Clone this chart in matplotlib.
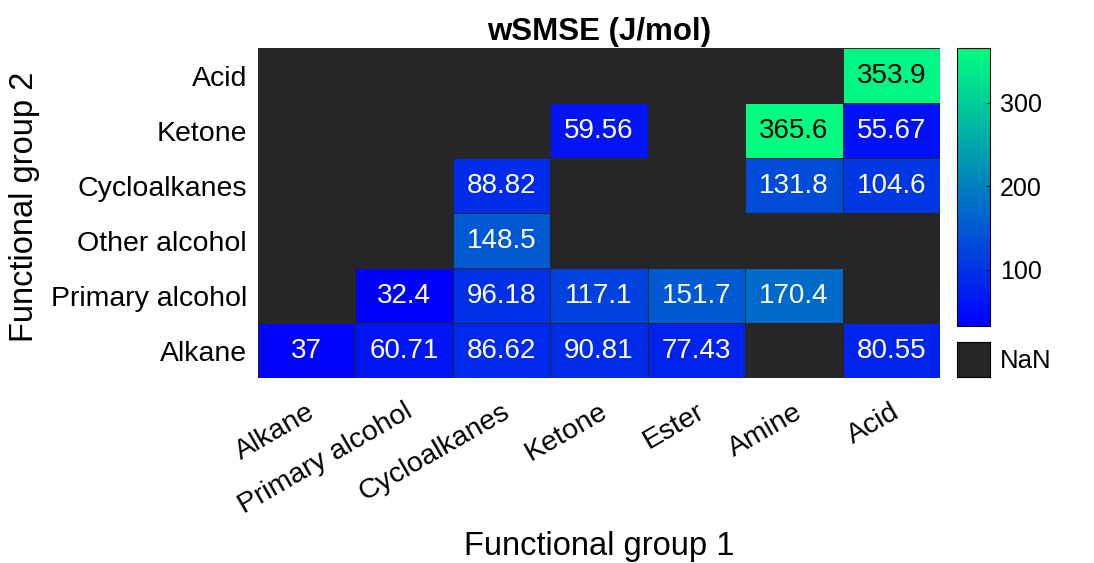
import numpy as np
import matplotlib.pyplot as plt
import matplotlib.colors as mcolors

plt.rcParams['font.family'] = ['Liberation Sans', 'DejaVu Sans']

# Functional groups
group1 = ['Alkane', 'Primary alcohol', 'Cycloalkanes', 'Ketone', 'Ester', 'Amine', 'Acid']
group2 = ['Acid', 'Ketone', 'Cycloalkanes', 'Other alcohol', 'Primary alcohol', 'Alkane']

nan = np.nan
# wSMSE values, rows follow group2 (top to bottom), columns follow group1
row_acid = [nan, nan, nan, nan, nan, nan, 353.9]
row_ketone = [nan, nan, nan, 59.56, nan, 365.6, 55.67]
row_cyclo = [nan, nan, 88.82, nan, nan, 131.8, 104.6]
row_other_alc = [nan, nan, 148.5, nan, nan, nan, nan]
row_prim_alc = [nan, 32.4, 96.18, 117.1, 151.7, 170.4, nan]
row_alkane = [37, 60.71, 86.62, 90.81, 77.43, nan, 80.55]

labels = {
    353.9: '353.9', 59.56: '59.56', 365.6: '365.6', 55.67: '55.67',
    88.82: '88.82', 131.8: '131.8', 104.6: '104.6', 148.5: '148.5',
    32.4: '32.4', 96.18: '96.18', 117.1: '117.1', 151.7: '151.7',
    170.4: '170.4', 37: '37', 60.71: '60.71', 86.62: '86.62',
    90.81: '90.81', 77.43: '77.43', 80.55: '80.55',
}

data = np.array([row_acid, row_ketone, row_cyclo, row_other_alc, row_prim_alc, row_alkane])
nrows, ncols = data.shape

fig = plt.figure(figsize=(10.94, 5.63), dpi=100)
ax = fig.add_axes([0.2358, 0.3286, 0.6234, 0.5861])

cmap = plt.get_cmap('winter')
norm = mcolors.Normalize(vmin=np.nanmin(data), vmax=np.nanmax(data))
nan_color = (0.15, 0.15, 0.15)
ax.set_facecolor(nan_color)

masked = np.ma.masked_invalid(data)
mesh = ax.pcolormesh(np.arange(ncols + 1), np.arange(nrows + 1), masked,
                     cmap=cmap, norm=norm, edgecolors=(0.15, 0.15, 0.15), linewidth=0.6)
ax.set_xlim(0, ncols)
ax.set_ylim(nrows, 0)

for i in range(nrows):
    for j in range(ncols):
        v = data[i, j]
        if np.isnan(v):
            continue
        r, g, b, _ = cmap(norm(v))
        lum = 0.2126 * r + 0.7152 * g + 0.0722 * b
        tc = 'black' if lum > 0.5 else 'white'
        ax.text(j + 0.5, i + 0.5, labels[v], ha='center', va='center',
                color=tc, fontsize=20)

ax.set_xticks(np.arange(ncols) + 0.5)
ax.set_xticklabels(group1, rotation=30, ha='right', va='top',
                   rotation_mode='anchor', fontsize=20.5)
ax.set_yticks(np.arange(nrows) + 0.5)
ax.set_yticklabels(group2, fontsize=20.5)
ax.tick_params(axis='x', length=0, pad=15)
ax.tick_params(axis='y', length=0, pad=8)
for s in ax.spines.values():
    s.set_visible(False)

ax.set_xlabel('Functional group 1', fontsize=23.5)
ax.xaxis.set_label_coords(0.5, -0.465)
ax.set_ylabel('Functional group 2', fontsize=23.5)
ax.yaxis.set_label_coords(-0.32, 0.52)
ax.set_title('wSMSE (J/mol)', fontsize=22.5, fontweight='bold', pad=6)

# colorbar
cax = fig.add_axes([0.8748, 0.421, 0.0302, 0.4938])
cb = fig.colorbar(mesh, cax=cax)
cb.set_ticks([100, 200, 300])
cb.ax.tick_params(direction='in', length=3, labelsize=18, width=0.6, pad=7)
cb.outline.set_linewidth(0.8)

# NaN legend box
nax = fig.add_axes([0.8748, 0.3304, 0.0302, 0.0622])
nax.set_facecolor(nan_color)
nax.set_xticks([])
nax.set_yticks([])
nax.text(1.3, 0.45, 'NaN', transform=nax.transAxes, ha='left', va='center', fontsize=18.5)

fig.savefig('out.png', dpi=100)
